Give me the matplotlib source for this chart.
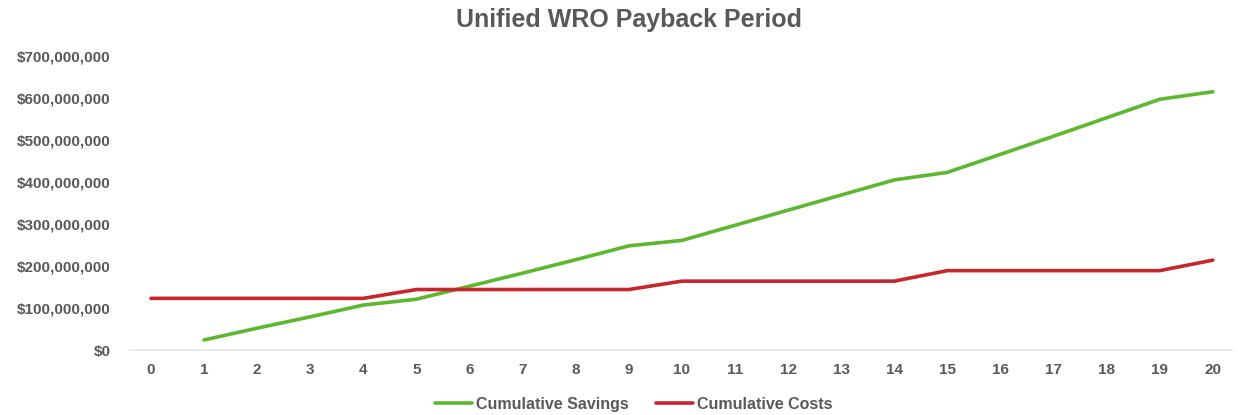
import matplotlib.pyplot as plt
from matplotlib.ticker import FuncFormatter

# data (USD)
years = list(range(21))
savings_years = list(range(1, 21))
cumulative_savings = [24e6, 52e6, 79e6, 107e6, 121e6, 152e6, 183e6, 215e6, 248e6, 261e6,
                      297e6, 333e6, 369e6, 405e6, 423e6, 466e6, 509e6, 553e6, 597e6, 615e6]
cumulative_costs = [123e6, 123e6, 123e6, 123e6, 123e6, 144e6, 144e6, 144e6, 144e6, 144e6,
                    164e6, 164e6, 164e6, 164e6, 164e6, 189e6, 189e6, 189e6, 189e6, 189e6, 214e6]

plt.rcParams['font.family'] = ['Liberation Sans', 'DejaVu Sans']
txt = '#595959'

fig = plt.figure(figsize=(12.38, 4.15), dpi=100)
ax = fig.add_axes([0.105, 0.1566, 0.890, 0.7084])

ax.plot(savings_years, cumulative_savings, color='#5cb82e', lw=2.6, label='Cumulative Savings',
        solid_capstyle='round')
ax.plot(years, cumulative_costs, color='#c8262d', lw=2.6, label='Cumulative Costs',
        solid_capstyle='round')

ax.set_xlim(-0.395, 20.357)
ax.set_ylim(0, 700e6)
ax.set_xticks(years)
ax.set_yticks(range(0, 700000001, 100000000))
ax.yaxis.set_major_formatter(FuncFormatter(lambda v, p: '${:,.0f}'.format(v)))

for s in ['top', 'right', 'left']:
    ax.spines[s].set_visible(False)
ax.spines['bottom'].set_color('#e6e6e6')
ax.spines['bottom'].set_linewidth(1.2)
ax.tick_params(length=0, colors=txt, labelsize=11)
ax.tick_params(axis='y', pad=14)
ax.tick_params(axis='x', pad=9)
for lab in ax.get_xticklabels() + ax.get_yticklabels():
    lab.set_fontweight('bold')

fig.suptitle('Unified WRO Payback Period', x=0.508, y=0.98, fontsize=18,
             fontweight='bold', color=txt)

leg = fig.legend(loc='center', bbox_to_anchor=(0.512, 0.026), ncol=2, frameon=False,
                 fontsize=11.5, handlelength=2.3, handletextpad=0.25, columnspacing=1.7)
for t in leg.get_texts():
    t.set_color(txt)
    t.set_fontweight('bold')

fig.savefig('out.png', dpi=100)
